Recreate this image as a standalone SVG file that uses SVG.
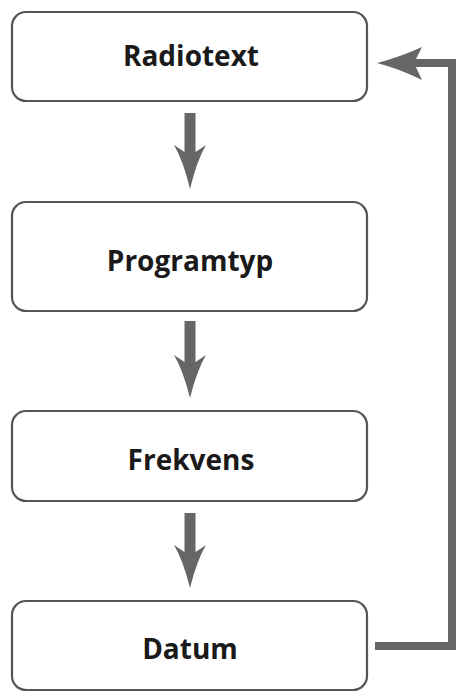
<svg xmlns="http://www.w3.org/2000/svg" width="462" height="693" viewBox="0 0 462 693">
<style>
.box{fill:#fff;stroke:#555;stroke-width:2.2}
.lbl{font-family:"Open Sans","Liberation Sans",sans-serif;font-weight:700;font-size:28px;fill:#1a1a1a;text-anchor:middle}
.arr{fill:#666;stroke:none}
.line{fill:none;stroke:#666;stroke-width:8}
</style>
<rect width="462" height="693" fill="#fff"/>
<g id="connectors">
<path class="arr" d="M184.5,113 L195.5,113 L195.5,152 L206,145 Q197,160 190,189 Q183,160 174,145 L184.5,152 Z"/>
<path class="arr" d="M184.5,321 L195.5,321 L195.5,362 L206,355 Q197,370 190,398 Q183,370 174,355 L184.5,362 Z"/>
<path class="arr" d="M184.5,513 L195.5,513 L195.5,552 L206,545 Q197,560 190,588 Q183,560 174,545 L184.5,552 Z"/>
<path class="line" d="M375,646 L452,646 L452,63 L412,63"/>
<path class="arr" d="M377,63 Q400,57 422,47 L414,63 L422,80 Q400,69 377,63 Z"/>
</g>
<g id="radiotext">
<rect class="box" x="12" y="12" width="355" height="89" rx="14"/>
<text class="lbl" x="191" y="66">Radiotext</text>
</g>
<g id="programtyp">
<rect class="box" x="12" y="202" width="355" height="109" rx="14"/>
<text class="lbl" x="190" y="271">Programtyp</text>
</g>
<g id="frekvens">
<rect class="box" x="12" y="411" width="355" height="90" rx="14"/>
<text class="lbl" x="191" y="470">Frekvens</text>
</g>
<g id="datum">
<rect class="box" x="12" y="601" width="355" height="89" rx="14"/>
<text class="lbl" x="190" y="659">Datum</text>
</g>
</svg>
